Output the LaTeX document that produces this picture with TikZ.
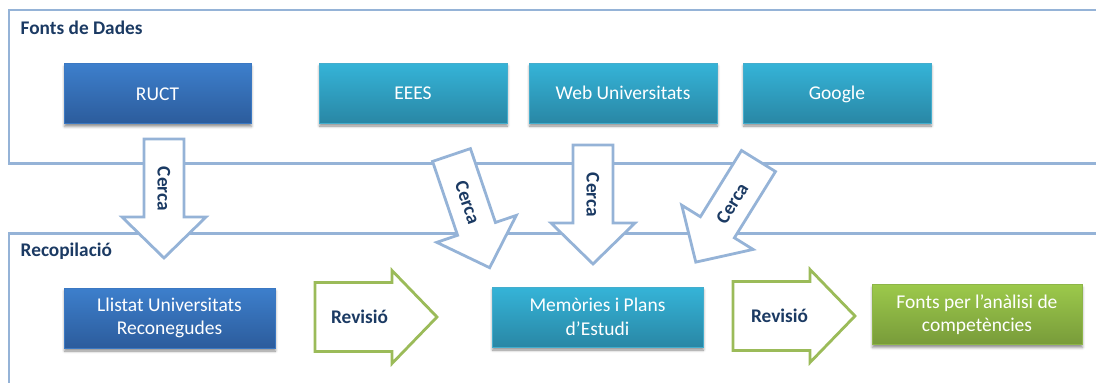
\documentclass[tikz,border=0pt]{standalone}
\usepackage{fontspec}
\setmainfont{Carlito}
\usetikzlibrary{shadows.blur}

\definecolor{framecol}{HTML}{95B3D7}
\definecolor{navytext}{HTML}{1B3A63}
\definecolor{revcol}{HTML}{9BBB59}
\definecolor{blueTop}{HTML}{3D7FCC}
\definecolor{blueBot}{HTML}{2C5C9C}
\definecolor{blueEdge}{HTML}{3B78C2}
\definecolor{cyanTop}{HTML}{35B4D8}
\definecolor{cyanBot}{HTML}{2987A5}
\definecolor{cyanEdge}{HTML}{44ADCD}
\definecolor{greenTop}{HTML}{9CC94B}
\definecolor{greenBot}{HTML}{789B3A}
\definecolor{greenEdge}{HTML}{8DB548}

\tikzset{
  x=1pt, y=1pt,
  frameline/.style={draw=framecol, line width=2.8pt},
  cercaline/.style={draw=framecol, fill=white, line width=2.8pt, line join=miter},
  revline/.style={draw=revcol, fill=white, line width=2.8pt, line join=miter},
  boldlabel/.style={font=\fontsize{19.3}{23}\selectfont\bfseries, text=navytext, inner sep=0pt},
  framelabel/.style={boldlabel, anchor=base west},
  procbox/.style={minimum height=60pt, inner sep=0pt, align=center, text=white,
    font=\fontsize{19.5}{23.5}\selectfont, line width=0.8pt,
    blur shadow={shadow xshift=0.5pt, shadow yshift=-3pt, shadow blur radius=2.5pt, shadow opacity=45}},
  oneline/.style={text height=13pt, text depth=0pt},
  bluebox/.style={procbox, top color=blueTop, bottom color=blueBot, draw=blueEdge},
  cyanbox/.style={procbox, top color=cyanTop, bottom color=cyanBot, draw=cyanEdge},
  greenbox/.style={procbox, top color=greenTop, bottom color=greenBot, draw=greenEdge},
  pics/cercaarrow/.style={code={
    \draw[cercaline] (-20,0) -- (20,0) -- (20,-78) -- (42,-78) -- (0,-119)
      -- (-42,-78) -- (-20,-78) -- cycle;
    \node[boldlabel, rotate=#1, transform shape] (-t) at (0,-50) {Cerca};
  }},
  pics/revarrow/.style={code={
    \draw[revline] (0,34.5) -- (77,34.5) -- (77,46.5) -- (122,0) -- (77,-46.5)
      -- (77,-34.5) -- (0,-34.5) -- cycle;
  }}
}

\begin{document}
\begin{tikzpicture}
\useasboundingbox (0,0) rectangle (1096,-383);
\clip (0,0) rectangle (1096,-383);

% the two stage frames
\draw[frameline] (9,-10) rectangle (1110,-163.5);
\draw[frameline] (9,-233.5) rectangle (1110,-400);
\node[framelabel] (fontsTitle) at (20.5,-34) {Fonts de Dades};
\node[framelabel] (recTitle) at (20.5,-256) {Recopilació};

% search arrows crossing from the sources to the collection stage
\pic (c1) at (164,-139) {cercaarrow=-90};
\pic[rotate=18.7] (c2) at (451.5,-155) {cercaarrow=-90};
\pic (c3) at (593,-145) {cercaarrow=-90};
\pic[rotate=-31.8] (c4) at (758.5,-161) {cercaarrow=90};

% data sources
\node[bluebox, oneline, minimum width=187pt] (ruct) at (157.5,-93.5) {RUCT};
\node[cyanbox, oneline, minimum width=188pt] (eees) at (413,-93) {EEES};
\node[cyanbox, oneline, minimum width=188pt] (web) at (623,-93) {Web Universitats};
\node[cyanbox, oneline, minimum width=188pt] (google) at (837,-93) {Google};

% collection stage
\node[bluebox, minimum width=211pt] (llistat) at (169.5,-318) {Llistat Universitats\\Reconegudes};
\node[cyanbox, minimum width=211pt] (memories) at (597.5,-317) {Memòries i Plans\\d’Estudi};
\node[greenbox, minimum width=210pt] (fontsan) at (977,-314.5) {Fonts per l’anàlisi de\\competències};

% review arrows
\pic (r1) at (315,-317) {revarrow};
\node[boldlabel] (r1t) at (359.5,-317) {Revisió};
\pic (r2) at (733,-316) {revarrow};
\node[boldlabel] (r2t) at (779.5,-316) {Revisió};
\end{tikzpicture}
\end{document}
